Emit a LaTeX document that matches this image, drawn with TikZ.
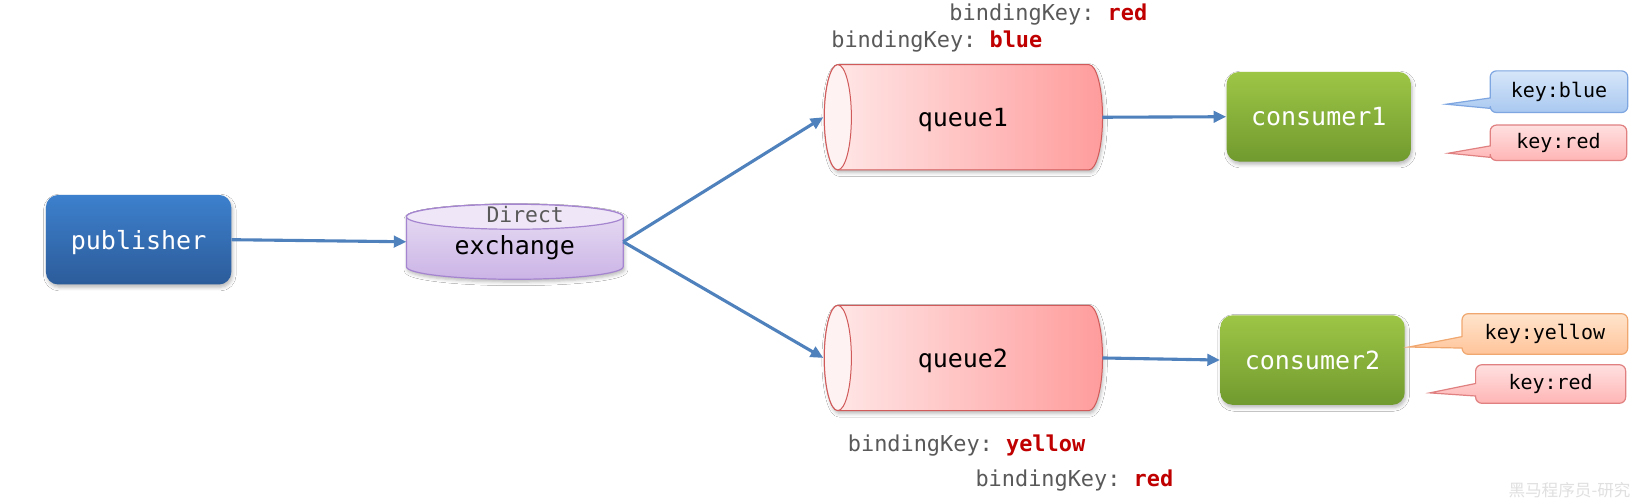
\documentclass[tikz,border=0pt]{standalone}
\usepackage{fontspec}
\setmonofont{DejaVu Sans Mono}
\newfontfamily\cjkfont{Noto Sans CJK SC}
\usetikzlibrary{arrows.meta,shadows.blur}
\definecolor{arrowblue}{HTML}{4F81BD}
\definecolor{pubtop}{HTML}{3D80CD}
\definecolor{pubbot}{HTML}{2C5C9A}
\definecolor{contop}{HTML}{9DC646}
\definecolor{conbot}{HTML}{719A2F}
\definecolor{qleft}{HTML}{FFE9E9}
\definecolor{qright}{HTML}{FF9C9C}
\definecolor{qface}{HTML}{FFF2F2}
\definecolor{qline}{HTML}{D05A5A}
\definecolor{extop}{HTML}{E9DFF4}
\definecolor{exbot}{HTML}{CBB4E6}
\definecolor{exface}{HTML}{EFE7F8}
\definecolor{exline}{HTML}{A585CF}
\definecolor{labgray}{HTML}{595959}
\definecolor{keyred}{HTML}{C00000}
\definecolor{cbtop}{HTML}{D6E6F9}
\definecolor{cbbot}{HTML}{A9C8F0}
\definecolor{cbline}{HTML}{7EA6E0}
\definecolor{crtop}{HTML}{FFE0E0}
\definecolor{crbot}{HTML}{FFB5B5}
\definecolor{crline}{HTML}{E08080}
\definecolor{cytop}{HTML}{FFE4CC}
\definecolor{cybot}{HTML}{FFC49A}
\definecolor{cyline}{HTML}{F0A870}
\newcommand{\mycallout}[9]{%
  \path[#9] (#1,#5) -- (#7,#8) -- (#1,#6) -- (#1,#4-6)
    arc[start angle=180,end angle=90,radius=6] -- (#3-6,#4)
    arc[start angle=90,end angle=0,radius=6] -- (#3,#2+6)
    arc[start angle=0,end angle=-90,radius=6] -- (#1+6,#2)
    arc[start angle=-90,end angle=-180,radius=6] -- cycle;}
\begin{document}
\begin{tikzpicture}[x=0.5211pt,y=-0.5211pt,
  shad/.style={blur shadow={shadow xshift=0.6pt,shadow yshift=-1.4pt,shadow opacity=28,shadow blur radius=1.8pt}},
  bigtext/.style={font=\ttfamily\fontsize{12.5}{14}\selectfont},
  box/.style={rounded corners=6.2pt,minimum width=92.7pt,minimum height=44.8pt,text=white,bigtext,shad,text depth=0pt},
  pub/.style={box,top color=pubtop,bottom color=pubbot},
  con/.style={box,top color=contop,bottom color=conbot,minimum width=92.2pt},
  holder/.style={inner sep=0pt,outer sep=0pt},
  conn/.style={draw=arrowblue,line width=1.55pt,-{Triangle[length=6.3pt,width=5.7pt]}},
  bind/.style={font=\ttfamily\fontsize{10.95}{12}\selectfont,text=labgray,inner sep=0pt},
  keytext/.style={font=\ttfamily\fontsize{10}{11}\selectfont,text=black,inner sep=0pt},
  qcyl/.style={left color=qleft,right color=qright,draw=qline,line width=0.5pt,shad},
  cb/.style={top color=cbtop,bottom color=cbbot,draw=cbline,line width=0.6pt},
  cr/.style={top color=crtop,bottom color=crbot,draw=crline,line width=0.6pt},
  cy/.style={top color=cytop,bottom color=cybot,draw=cyline,line width=0.6pt}]
\useasboundingbox (0,0) rectangle (1568,479);
\fill[white] (0,0) rectangle (1568,479);

% publisher
\node[pub] (pub) at (133,230) {publisher};

% exchange cylinder
\path[top color=extop,bottom color=exbot,draw=exline,line width=0.6pt,shad]
  (390,208) -- (390,256) arc[start angle=180,end angle=0,x radius=104,y radius=12]
  -- (598,208) arc[start angle=0,end angle=-180,x radius=104,y radius=12] -- cycle;
\draw[fill=exface,draw=exline,line width=0.6pt] (494,208) ellipse[x radius=104,y radius=12];
\node[holder,minimum width=108.4pt,minimum height=37.5pt] (ex) at (494,232) {};
\node[font=\ttfamily\fontsize{10.7}{12}\selectfont,text=labgray,inner sep=0pt] (exdir) at (504,206) {Direct};
\node[bigtext,inner sep=0pt] (extxt) at (494,238) {exchange};

% queue1
\path[qcyl] (804,62) -- (1045,62) arc[start angle=-90,end angle=90,x radius=13,y radius=50.5]
  -- (804,163) arc[start angle=90,end angle=270,x radius=13,y radius=50.5] -- cycle;
\draw[fill=qface,draw=qline,line width=0.5pt] (804,112.5) ellipse[x radius=13,y radius=50.5];
\node[holder,bigtext,text depth=0pt,minimum width=139.6pt,minimum height=52.6pt] (q1) at (924,112.5) {queue1};

% queue2
\path[qcyl] (804,293) -- (1045,293) arc[start angle=-90,end angle=90,x radius=13,y radius=50.5]
  -- (804,394) arc[start angle=90,end angle=270,x radius=13,y radius=50.5] -- cycle;
\draw[fill=qface,draw=qline,line width=0.5pt] (804,343.5) ellipse[x radius=13,y radius=50.5];
\node[holder,bigtext,text depth=0pt,minimum width=139.6pt,minimum height=52.6pt] (q2) at (924,343.5) {queue2};

% consumers
\node[con] (c1) at (1265.5,112) {consumer1};
\node[con] (c2) at (1259.5,345.5) {consumer2};

% connectors
\draw[conn] (pub.east) -- (ex.west);
\draw[conn] (ex.east) -- (q1.west);
\draw[conn] (ex.east) -- (q2.west);
\draw[conn] (q1.east) -- (c1.west);
\draw[conn] (q2.east) -- (c2.west);

% binding labels
\node[bind] (b1) at (1006,14) {bindingKey: \textcolor{keyred}{\bfseries red}};
\node[bind] (b2) at (899,40) {bindingKey: \textcolor{keyred}{\bfseries blue}};
\node[bind] (b3) at (927.5,428) {bindingKey: \textcolor{keyred}{\bfseries yellow}};
\node[bind] (b4) at (1031,461) {bindingKey: \textcolor{keyred}{\bfseries red}};

% callouts
\mycallout{1430}{68}{1562}{108}{94}{104}{1388}{100}{cb}
\node[keytext] (k1) at (1496,88) {key:blue};
\mycallout{1430}{120}{1561}{154}{140}{151}{1390}{147}{cr}
\node[keytext] (k2) at (1495.5,137) {key:red};
\mycallout{1403}{301}{1562}{340}{323}{334}{1352}{333}{cy}
\node[keytext] (k3) at (1482.5,320.5) {key:yellow};
\mycallout{1416}{350}{1560}{387}{368}{380}{1372}{377}{cr}
\node[keytext] (k4) at (1488,368.5) {key:red};

% watermark
\node[font=\cjkfont\fontsize{8.3}{10}\selectfont,text=black!12,inner sep=0pt,anchor=east] (wm) at (1565,470) {黑马程序员-研究};
\end{tikzpicture}
\end{document}
